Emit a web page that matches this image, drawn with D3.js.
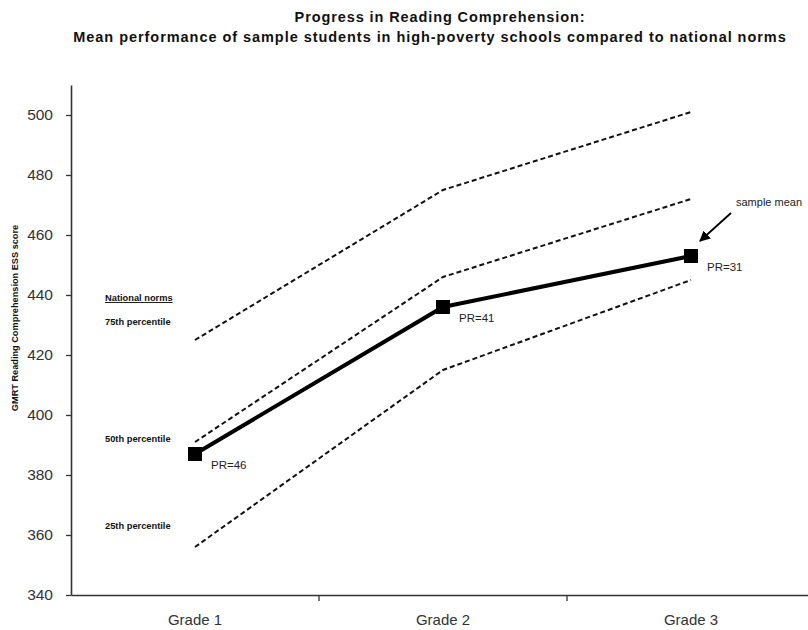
<!DOCTYPE html>
<html><head><meta charset="utf-8">
<script src="https://cdn.jsdelivr.net/npm/d3@7"></script>
<style>body{margin:0;background:#fff}svg{font-family:"Liberation Sans",Arial,sans-serif}</style>
</head><body><svg id="c" width="808" height="630"></svg>
<script>
const categories = ["Grade 1", "Grade 2", "Grade 3"];
const sampleMean = [387, 436, 453];
const pctl75 = [425, 475, 501];
const pctl50 = [391, 446, 472];
const pctl25 = [356, 415, 445];
const prLabels = ["PR=46", "PR=41", "PR=31"];
const yTicks = [340, 360, 380, 400, 420, 440, 460, 480, 500];
const normLabels = [["75th percentile", 431], ["50th percentile", 392], ["25th percentile", 363]];

const svg = d3.select("#c");
const x = d3.scaleBand().domain(categories).range([71, 815]);
const y = d3.scaleLinear().domain([340, 510]).range([595, 85]);
const cx = d => x(d) + x.bandwidth() / 2;

// title
svg.append("text").attr("x", 440).attr("y", 22).attr("text-anchor", "middle")
  .attr("font-weight", "bold").attr("font-size", 14.5).attr("letter-spacing", 0.9)
  .attr("fill", "#111").text("Progress in Reading Comprehension:");
svg.append("text").attr("x", 430).attr("y", 42).attr("text-anchor", "middle")
  .attr("font-weight", "bold").attr("font-size", 14.5).attr("letter-spacing", 0.95)
  .attr("fill", "#111")
  .text("Mean performance of sample students in high-poverty schools compared to national norms");

// y axis
const ya = svg.append("g").attr("transform", "translate(71,0)")
  .call(d3.axisLeft(y).tickValues(yTicks).tickSize(5).tickSizeOuter(0));
ya.select(".domain").attr("stroke", "#333").attr("stroke-width", 1.6);
ya.selectAll(".tick line").attr("stroke", "#333").attr("stroke-width", 1.3);
ya.selectAll(".tick text").attr("font-size", 15.5).attr("fill", "#333").attr("x", -18)
  .attr("font-family", "Liberation Sans, Arial, sans-serif");

// x axis
const xa = svg.append("g").attr("transform", "translate(0,595)")
  .call(d3.axisBottom(x).tickSize(0).tickSizeOuter(0));
xa.select(".domain").attr("stroke", "#333").attr("stroke-width", 1.6);
xa.selectAll(".tick text").attr("font-size", 15).attr("fill", "#333").attr("y", 19)
  .attr("font-family", "Liberation Sans, Arial, sans-serif");
// ticks between categories
svg.append("g").selectAll("line").data(categories.slice(1)).join("line")
  .attr("x1", d => x(d)).attr("x2", d => x(d)).attr("y1", 595).attr("y2", 601)
  .attr("stroke", "#333").attr("stroke-width", 1.3);

// y axis title
svg.append("text").attr("transform", "translate(18,318) rotate(-90)")
  .attr("text-anchor", "middle").attr("font-weight", "bold").attr("font-size", 9.2)
  .attr("fill", "#111").text("GMRT Reading Comprehension ESS score");

// norm lines
const line = d3.line().x((d, i) => cx(categories[i])).y(d => y(d));
[pctl75, pctl50, pctl25].forEach(s => {
  svg.append("path").datum(s).attr("d", line).attr("fill", "none")
    .attr("stroke", "#111").attr("stroke-width", 2).attr("stroke-dasharray", "5,3");
});

// sample mean
svg.append("path").datum(sampleMean).attr("d", line).attr("fill", "none")
  .attr("stroke", "#000").attr("stroke-width", 4);
svg.append("g").selectAll("rect").data(sampleMean).join("rect")
  .attr("x", (d, i) => cx(categories[i]) - 7).attr("y", d => y(d) - 7)
  .attr("width", 14).attr("height", 14).attr("fill", "#000");
svg.append("g").selectAll("text").data(sampleMean).join("text")
  .attr("x", (d, i) => cx(categories[i]) + 16).attr("y", d => y(d) + 15)
  .attr("font-size", 11.5).attr("fill", "#222").text((d, i) => prLabels[i]);

// national norms legend text
svg.append("text").attr("x", 105).attr("y", 301).attr("font-size", 9.3).attr("font-weight", "bold")
  .attr("fill", "#111").attr("text-decoration", "underline").text("National norms");
svg.append("g").selectAll("text").data(normLabels).join("text")
  .attr("x", 105).attr("y", d => y(d[1]) + 3).attr("font-size", 9.3).attr("font-weight", "bold")
  .attr("fill", "#111").text(d => d[0]);

// sample mean annotation
svg.append("defs").append("marker").attr("id", "ah").attr("viewBox", "0 0 10 10")
  .attr("refX", 9).attr("refY", 5).attr("markerWidth", 6).attr("markerHeight", 6)
  .attr("markerUnits", "strokeWidth")
  .attr("orient", "auto").append("path").attr("d", "M0,0L10,5L0,10z").attr("fill", "#000");
const g3x = cx("Grade 3");
svg.append("line").attr("x1", g3x + 40).attr("y1", y(sampleMean[2]) - 43)
  .attr("x2", g3x + 9).attr("y2", y(sampleMean[2]) - 15)
  .attr("stroke", "#000").attr("stroke-width", 1.8).attr("marker-end", "url(#ah)");
svg.append("text").attr("x", g3x + 45).attr("y", y(sampleMean[2]) - 50)
  .attr("font-size", 11).attr("fill", "#222").text("sample mean");
</script></body></html>
